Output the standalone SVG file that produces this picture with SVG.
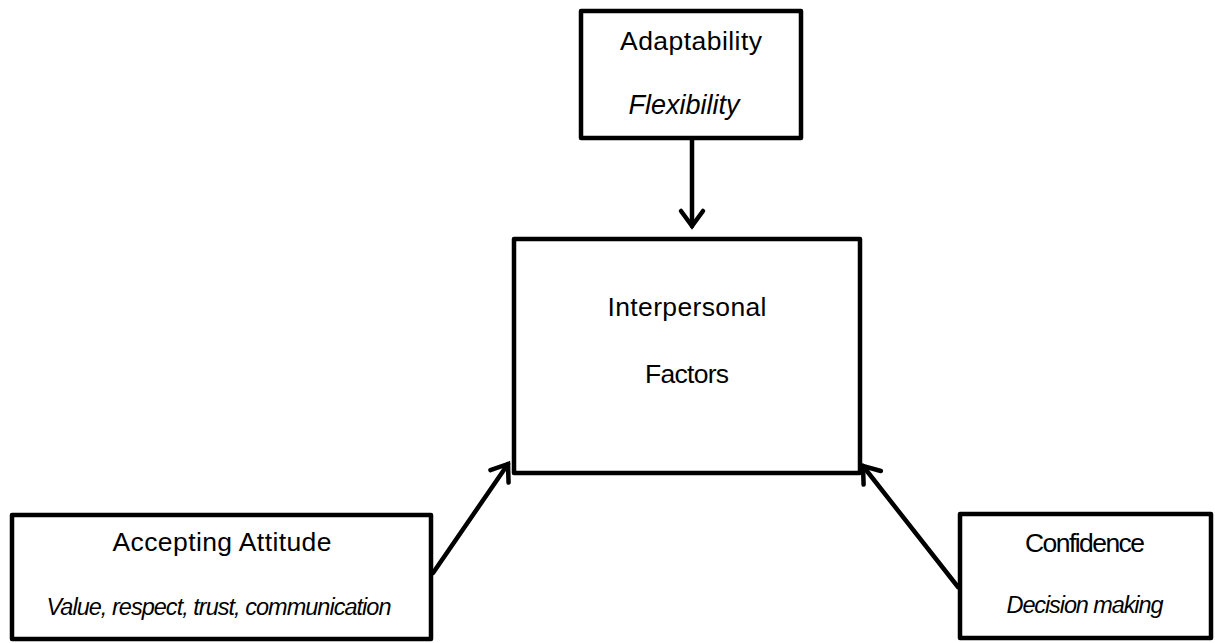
<svg xmlns="http://www.w3.org/2000/svg" width="1215" height="643" viewBox="0 0 1215 643">
  <style>
    .box { fill: #ffffff; stroke: #000000; stroke-width: 4.5; stroke-linejoin: round; }
    .lbl { font-family: "Liberation Sans", Arial, sans-serif; font-size: 26.5px; fill: #000000; text-anchor: middle; }
    .sub { font-style: italic; font-size: 23.5px; }
    .link { fill: none; stroke: #000000; stroke-width: 4.5; stroke-linecap: round; }
  </style>
  <defs>
    <marker id="chevron" markerUnits="userSpaceOnUse" markerWidth="30" markerHeight="30" viewBox="-20 -15 30 30" refX="0" refY="0" orient="auto">
      <path d="M -15 -11 L 0 0 L -15 11" fill="none" stroke="#000000" stroke-width="4.5" stroke-linecap="round" stroke-linejoin="miter"/>
    </marker>
  </defs>

  <rect width="1215" height="643" fill="#ffffff"/>

  <!-- connectors -->
  <g id="connectors">
    <line class="link" x1="692" y1="140" x2="692" y2="226" marker-end="url(#chevron)"/>
    <line class="link" x1="433" y1="573" x2="508" y2="464" marker-end="url(#chevron)"/>
    <line class="link" x1="958" y1="587" x2="863" y2="466" marker-end="url(#chevron)"/>
  </g>

  <!-- Adaptability -->
  <g id="node-adaptability">
    <rect class="box" x="581" y="11" width="220" height="127"/>
    <text class="lbl" x="691" y="50" textLength="142">Adaptability</text>
    <text class="lbl sub" x="684" y="114" style="font-size:27px">Flexibility</text>
  </g>

  <!-- Interpersonal Factors -->
  <g id="node-interpersonal">
    <rect class="box" x="514" y="239" width="346" height="234"/>
    <text class="lbl" x="687" y="316" textLength="159">Interpersonal</text>
    <text class="lbl" x="687" y="383" textLength="84">Factors</text>
  </g>

  <!-- Accepting Attitude -->
  <g id="node-accepting">
    <rect class="box" x="12" y="515" width="419" height="124"/>
    <text class="lbl" x="222" y="551" textLength="219">Accepting Attitude</text>
    <text class="lbl sub" x="219" y="615" textLength="345">Value, respect, trust, communication</text>
  </g>

  <!-- Confidence -->
  <g id="node-confidence">
    <rect class="box" x="960" y="514" width="251" height="124"/>
    <text class="lbl" x="1085" y="552" textLength="120">Confidence</text>
    <text class="lbl sub" x="1085" y="613" textLength="157">Decision making</text>
  </g>
</svg>
